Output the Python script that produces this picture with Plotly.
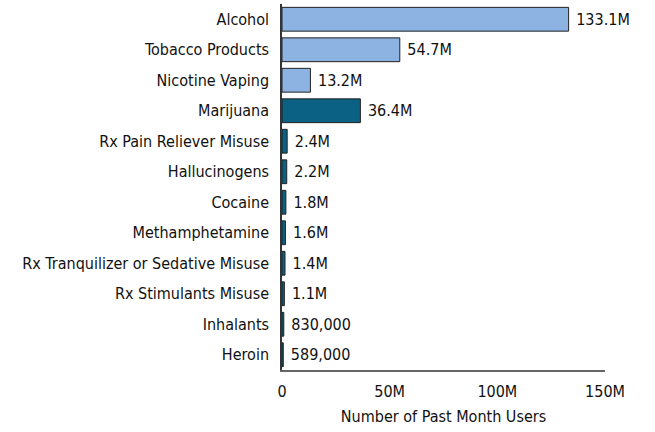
import plotly.graph_objects as go

categories = ["Alcohol", "Tobacco Products", "Nicotine Vaping", "Marijuana",
              "Rx Pain Reliever Misuse", "Hallucinogens", "Cocaine", "Methamphetamine",
              "Rx Tranquilizer or Sedative Misuse", "Rx Stimulants Misuse", "Inhalants", "Heroin"]
values = [133.1e6, 54.7e6, 13.2e6, 36.4e6, 2.4e6, 2.2e6, 1.8e6, 1.6e6, 1.4e6, 1.1e6, 830000, 589000]
labels = ["133.1M", "54.7M", "13.2M", "36.4M", "2.4M", "2.2M", "1.8M", "1.6M",
          "1.4M", "1.1M", "830,000", "589,000"]
groups = ["legal", "legal", "legal"] + ["illicit"] * 9

colors = {"legal": "#8DB3E2", "illicit": "#0B6183"}

FONT = "DejaVu Sans Condensed, sans-serif"

fig = go.Figure(go.Bar(
    x=values, y=categories, orientation="h",
    marker=dict(color=[colors[g] for g in groups], line=dict(color="#222222", width=1)),
    text=[" " + t for t in labels], textposition="outside", cliponaxis=False,
    textfont=dict(size=16, color="#111111", family=FONT),
    hoverinfo="skip",
))

fig.update_layout(
    width=655, height=432,
    margin=dict(l=282, r=50, t=4, b=62),
    paper_bgcolor="white", plot_bgcolor="white",
    font=dict(family=FONT, size=16, color="#111111"),
    bargap=0.22,
    showlegend=False,
)
fig.update_xaxes(
    range=[0, 150e6], tickvals=[0, 50e6, 100e6, 150e6], ticktext=["0", "50M", "100M", "150M"],
    showgrid=False, zeroline=False, showline=True, linecolor="#666666", linewidth=1.5,
    ticks="outside", ticklen=6, tickcolor="rgba(0,0,0,0)",
    title=dict(text="Number of Past Month Users", standoff=11, font=dict(size=16)),
    tickfont=dict(size=16), automargin=False,
)
fig.update_yaxes(
    autorange="reversed", showgrid=False, zeroline=False,
    showline=True, linecolor="#333333", linewidth=1.5,
    ticks="outside", ticklen=8, tickcolor="rgba(0,0,0,0)",
    tickfont=dict(size=16), automargin=False,
)

fig.write_html("out.html", config={"displayModeBar": False},
               post_script="document.body.style.margin='0';")
